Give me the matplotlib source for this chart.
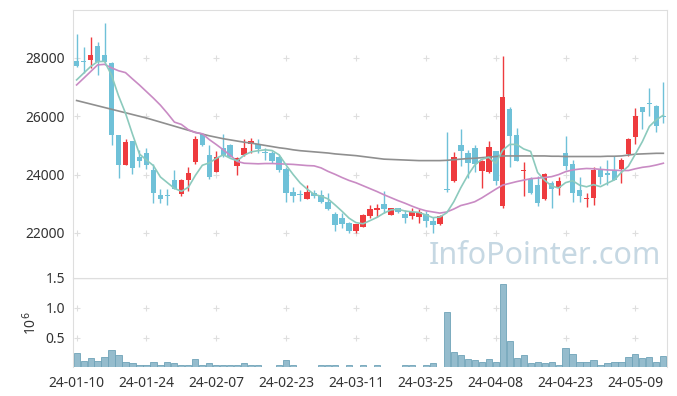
import numpy as np
import pandas as pd
import matplotlib
matplotlib.use('Agg')
import matplotlib.pyplot as plt

# trading days 24-01-10 .. 24-05-16 (KRX holidays removed)
holidays = ['2024-02-09', '2024-02-12', '2024-03-01', '2024-04-10',
            '2024-05-01', '2024-05-06', '2024-05-15']
dates = [d for d in pd.bdate_range('2024-01-10', '2024-05-16')
         if d.strftime('%Y-%m-%d') not in holidays]

opens = [27900, 27900, 27930, 28410, 28100, 27840, 25360, 24330, 25150, 24600,
         24730, 24160, 23290, 23280, 23800, 23350, 23820, 24420, 25390, 24670,
         24100, 24900, 25020, 24280, 24670, 25040, 25040, 24780, 24730, 24620,
         24190, 23390, 23330, 23180, 23380, 23290, 23070, 22650, 22500, 22330,
         22080, 22200, 22580, 22800, 22990, 22620, 22840, 22640, 22580, 22540,
         22640, 22420, 22310, 23520, 23780, 25020, 24730, 24910, 24130, 24090,
         24810, 22940, 26260, 25360, 24120, 23840, 23650, 23150, 23710, 23530,
         24730, 24370, 23470, 23160, 23190, 24180, 24050, 24160, 24180, 24700,
         25300, 26310, 26440, 26350, 26000]
highs = [28820, 28370, 28710, 28550, 29190, 27850, 25370, 25220, 25160, 24850,
         24900, 24350, 23510, 23500, 24150, 23840, 24250, 25330, 25420, 25000,
         24820, 25390, 25040, 24620, 25210, 25260, 25210, 24900, 24810, 24670,
         24250, 23590, 23470, 23640, 23470, 23470, 23380, 22730, 22670, 22390,
         22310, 22650, 22960, 22990, 23450, 22870, 22870, 22790, 22850, 22810,
         22760, 22560, 22620, 25470, 24790, 25550, 24850, 25000, 24490, 25150,
         24820, 28050, 26310, 25590, 24440, 23910, 23950, 24070, 23770, 23930,
         25340, 24500, 23910, 23380, 24250, 24280, 24500, 24650, 24560, 25240,
         26300, 26320, 26960, 26400, 27190]
lows = [27700, 27480, 27650, 27420, 27850, 25020, 23900, 24320, 24020, 24270,
        24180, 23040, 23020, 22960, 23500, 23250, 23450, 24350, 24990, 23840,
        24090, 24610, 24590, 23990, 24640, 24750, 24730, 24500, 24390, 24100,
        23070, 23070, 23110, 23170, 23210, 23040, 22800, 22080, 22160, 22010,
        21990, 22190, 22500, 22560, 22670, 22600, 22700, 22350, 22470, 22330,
        22190, 21990, 22270, 23410, 23750, 24280, 23870, 24100, 23530, 24040,
        23650, 22850, 24250, 24470, 23270, 23350, 22930, 23140, 22850, 23290,
        24170, 23070, 23070, 22880, 22960, 23680, 23650, 23810, 23720, 24640,
        25050, 25560, 26010, 25450, 25760]
closes = [27740, 27850, 28100, 27850, 27870, 25360, 24330, 25120, 24240, 24480,
          24330, 23360, 23180, 23260, 23510, 23830, 24050, 25210, 25000, 23930,
          24590, 24670, 24600, 24580, 24900, 25150, 24870, 24750, 24450, 24160,
          23380, 23280, 23300, 23400, 23250, 23070, 22810, 22270, 22310, 22080,
          22300, 22610, 22810, 22870, 22810, 22850, 22730, 22500, 22730, 22710,
          22420, 22270, 22590, 23480, 24590, 24820, 24390, 24350, 24470, 24930,
          23790, 26650, 25330, 24480, 24150, 23360, 23040, 24010, 23500, 23790,
          24280, 23380, 23250, 23210, 24160, 23930, 23990, 23820, 24500, 25210,
          26010, 26130, 26410, 25650, 25980]
# volume in millions
volumes = [0.24, 0.11, 0.155, 0.11, 0.17, 0.29, 0.21, 0.09, 0.07, 0.05,
           0.05, 0.085, 0.05, 0.085, 0.07, 0.035, 0.035, 0.14, 0.035, 0.07,
           0.05, 0.05, 0.05, 0.05, 0.07, 0.05, 0.035, 0.01, 0.01, 0.05,
           0.12, 0.035, 0.01, 0.01, 0.01, 0.035, 0.035, 0.035, 0.01, 0.05,
           0.01, 0.035, 0.01, 0.035, 0.01, 0.01, 0.01, 0.035, 0.035, 0.01,
           0.035, 0.07, 0.01, 0.93, 0.26, 0.21, 0.14, 0.12, 0.10, 0.14,
           0.10, 1.40, 0.45, 0.155, 0.21, 0.07, 0.085, 0.07, 0.085, 0.035,
           0.33, 0.22, 0.10, 0.085, 0.12, 0.05, 0.07, 0.10, 0.085, 0.17,
           0.22, 0.155, 0.17, 0.10, 0.19]

# first ma5 points need closes from before the window
ma5_head = [27246, 27475, 27702, 27873]
ma20 = [27074, 27300, 27530, 27760, 27780, 27660, 27560, 27496, 27280, 27070,
        26845, 26620, 26380, 26100, 25800, 25720, 25540, 25440, 25400, 25200,
        25030, 24850, 24660, 24450, 24390, 24380, 24370, 24380, 24380, 24370,
        24360, 24350, 24330, 24310, 24300, 24230, 24110, 24010, 23900, 23800,
        23720, 23620, 23520, 23420, 23310, 23210, 23110, 23020, 22920, 22830,
        22760, 22720, 22680, 22720, 22820, 22940, 23000, 23070, 23200, 23350,
        23500, 23640, 23700, 23760, 23810, 23860, 23880, 23900, 23930, 24000,
        24100, 24160, 24190, 24210, 24200, 24180, 24160, 24150, 24140, 24140,
        24200, 24250, 24280, 24330, 24390]
ma60 = [26540, 26480, 26420, 26360, 26300, 26240, 26180, 26120, 26060, 26000,
        25940, 25870, 25800, 25730, 25660, 25590, 25520, 25450, 25390, 25330,
        25280, 25230, 25190, 25150, 25110, 25080, 25040, 25000, 24960, 24920,
        24890, 24850, 24820, 24800, 24780, 24760, 24740, 24710, 24690, 24670,
        24650, 24620, 24590, 24560, 24530, 24520, 24510, 24500, 24490, 24480,
        24480, 24480, 24480, 24490, 24510, 24530, 24550, 24560, 24580, 24600,
        24620, 24640, 24640, 24640, 24640, 24640, 24640, 24640, 24630, 24630,
        24620, 24620, 24620, 24620, 24620, 24620, 24630, 24630, 24640, 24670,
        24700, 24710, 24720, 24730, 24730]

df = pd.DataFrame({'Open': opens, 'High': highs, 'Low': lows, 'Close': closes,
                   'Volume': volumes}, index=dates)
ma5 = df['Close'].rolling(5).mean().values
ma5[:4] = ma5_head

UP = '#ee3b3e'
DOWN = '#6fc1d8'
GRID = '#dedede'
TXT = '#333333'

plt.rcParams['font.family'] = ['Noto Sans', 'DejaVu Sans']

fig = plt.figure(figsize=(6.77, 3.96), dpi=100)
ax = fig.add_axes([0.108, 0.298, 0.877, 0.677])
axv = fig.add_axes([0.108, 0.072, 0.877, 0.226], sharex=ax)

x = np.arange(len(df))
up = df['Close'] >= df['Open']
colors = np.where(up, UP, DOWN)

ax.vlines(x, df['Low'], df['High'], colors=colors, lw=1.0, zorder=3)
body_bottom = np.minimum(df['Open'], df['Close'])
body_height = np.maximum((df['Close'] - df['Open']).abs(), 40)
ax.bar(x, body_height, bottom=body_bottom, width=0.8, color=colors, zorder=4)

ax.plot(x, ma60, color='#8f8f8f', lw=1.2, zorder=5)
ax.plot(x, ma20, color='#c98bc4', lw=1.2, zorder=5)
ax.plot(x, ma5, color='#8ccabd', lw=1.2, zorder=5)

axv.bar(x, df['Volume'], width=0.88, color='#95bccd', edgecolor='#6fa3b8', lw=0.6)

ax.set_xlim(-0.5, len(df) - 0.5)
ax.set_ylim(20456, 29646)
axv.set_ylim(0, 1.5)

yt = [22000, 24000, 26000, 28000]
ax.set_yticks(yt)
axv.set_yticks([0.5, 1.0, 1.5])
xt = list(range(0, len(df), 10))
axv.set_xticks(xt)
axv.set_xticklabels([dates[i].strftime('%y-%m-%d') for i in xt])
ax.tick_params(axis='x', labelbottom=False, length=0)

for a in (ax, axv):
    a.tick_params(axis='both', length=0, labelsize=10, colors=TXT, pad=6)
    for s in a.spines.values():
        s.set_color(GRID)
    a.set_facecolor('white')
ax.spines['bottom'].set_visible(False)
axv.spines['bottom'].set_visible(False)

# "+" marks where grid lines would cross
gx, gy = np.meshgrid(xt, yt)
ax.scatter(gx.ravel(), gy.ravel(), marker='+', s=22, color=GRID, lw=0.8, zorder=1)
gx, gy = np.meshgrid(xt, [0.5, 1.0])
axv.scatter(gx.ravel(), gy.ravel(), marker='+', s=22, color=GRID, lw=0.8, zorder=0)
axv.axhline(1.5, color=GRID, lw=1)

axv.set_ylabel('10$^6$', fontsize=10, color=TXT, labelpad=4)

ax.text(0.99, 0.025, 'InfoPointer.com', transform=ax.transAxes, ha='right', va='bottom',
        fontsize=22, color='#c6d8e3', zorder=2)

fig.savefig('out.png', dpi=100)
